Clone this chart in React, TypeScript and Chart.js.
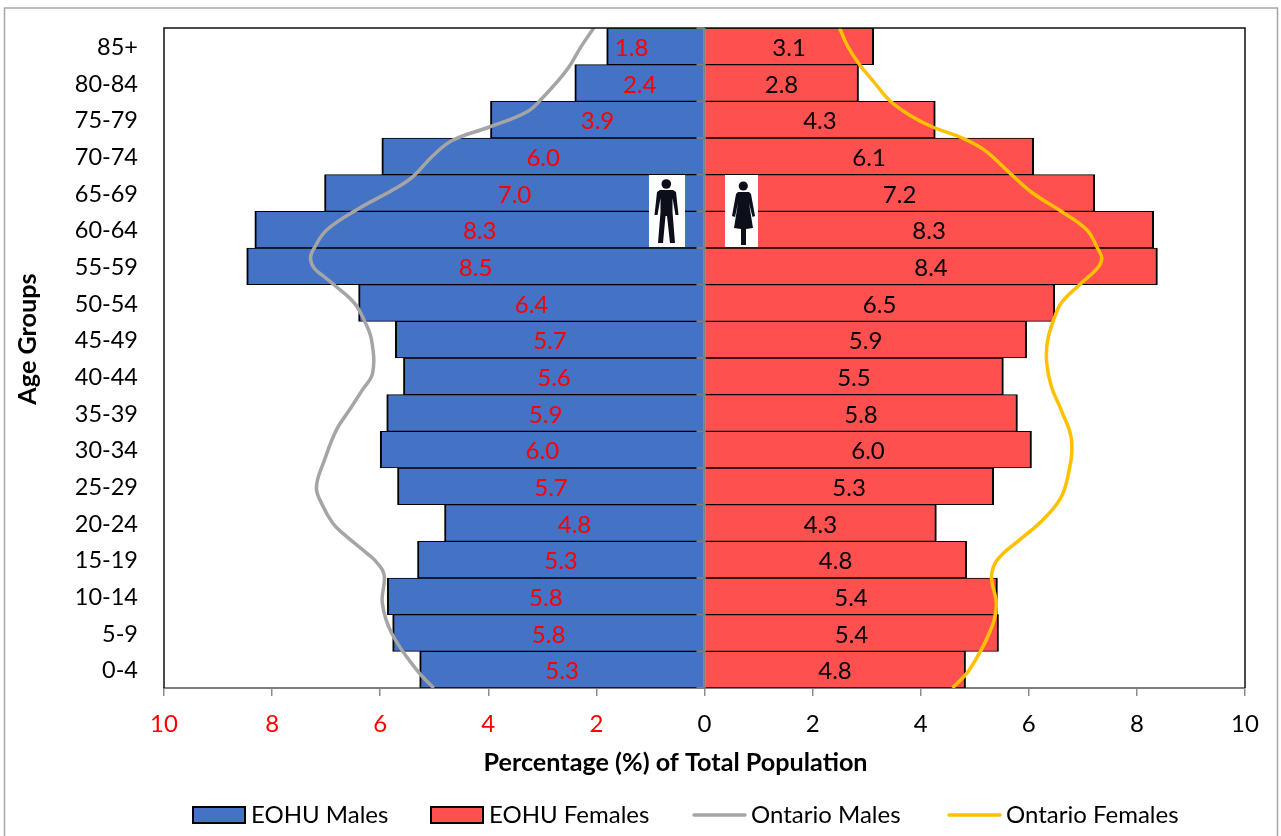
import React, { useEffect, useRef } from "react";
import { Chart, registerables } from "chart.js";

Chart.register(...registerables);

const FONT = "Lato, Carlito, 'Open Sans', sans-serif";

const ageGroups = ["85+", "80-84", "75-79", "70-74", "65-69", "60-64", "55-59", "50-54", "45-49", "40-44", "35-39", "30-34", "25-29", "20-24", "15-19", "10-14", "5-9", "0-4"];
const eohuMales = [1.81, 2.4, 3.96, 5.97, 7.03, 8.32, 8.47, 6.4, 5.72, 5.57, 5.88, 6.0, 5.68, 4.81, 5.31, 5.87, 5.77, 5.27];
const eohuFemales = [3.13, 2.85, 4.27, 6.09, 7.22, 8.31, 8.38, 6.48, 5.96, 5.53, 5.79, 6.05, 5.35, 4.29, 4.85, 5.42, 5.44, 4.83];
const maleLabels = ["1.8", "2.4", "3.9", "6.0", "7.0", "8.3", "8.5", "6.4", "5.7", "5.6", "5.9", "6.0", "5.7", "4.8", "5.3", "5.8", "5.8", "5.3"];
const femaleLabels = ["3.1", "2.8", "4.3", "6.1", "7.2", "8.3", "8.4", "6.5", "5.9", "5.5", "5.8", "6.0", "5.3", "4.3", "4.8", "5.4", "5.4", "4.8"];

// Ontario curves: position on the age axis (0 = bottom, 18 = top) and percentage
const ontarioMaleLevels = [0, 0.5, 1.5, 2.31, 3.0, 3.22, 3.5, 3.68, 4.23, 4.5, 4.99, 5.48, 6.22, 7.04, 7.58, 8.13, 8.59, 9.49, 10.01, 10.5, 10.99, 11.21, 11.45, 11.73, 12, 12.49, 13.09, 13.58, 13.94, 14.51, 14.94, 15.3, 15.71, 16.09, 16.85, 17.5, 18];
const ontarioMales = [5.01, 5.33, 5.79, 5.96, 5.92, 5.96, 6.11, 6.25, 6.7, 6.88, 7.07, 7.18, 7.03, 6.81, 6.57, 6.33, 6.14, 6.16, 6.29, 6.48, 6.85, 7.03, 7.22, 7.29, 7.22, 6.99, 6.38, 5.77, 5.4, 5.03, 4.66, 3.98, 3.29, 3.0, 2.55, 2.28, 2.05];
const ontarioFemaleLevels = [0, 0.5, 1.5, 2.26, 3.03, 3.5, 4.04, 4.5, 5.13, 5.75, 6.76, 7.58, 8.21, 8.89, 9.49, 10.12, 10.5, 11, 11.45, 11.73, 12, 12.5, 13.03, 13.5, 14, 14.67, 15, 15.3, 15.63, 16.03, 16.5, 17, 17.5, 18];
const ontarioFemales = [4.59, 4.9, 5.27, 5.4, 5.31, 5.42, 5.83, 6.2, 6.57, 6.72, 6.79, 6.6, 6.42, 6.33, 6.35, 6.48, 6.6, 6.94, 7.27, 7.35, 7.27, 7.07, 6.57, 6.07, 5.68, 5.18, 4.77, 4.22, 3.79, 3.42, 3.15, 2.87, 2.65, 2.5];

const xTickValues = [-10, -8, -6, -4, -2, 0, 2, 4, 6, 8, 10];
const xTitle = "Percentage (%) of Total Population";
const yTitle = "Age Groups";

const pairs = (levels: number[], values: number[]) => levels.map((y, i) => ({ x: values[i], y }));

const pyramidPlugin = {
  id: "pyramid",
  afterDatasetsDraw(chart: any) {
    const { ctx, chartArea: a, scales } = chart;
    const x = scales.x;
    const y = scales.y;
    const zero = x.getPixelForValue(0);
    ctx.save();

    // plot frame
    ctx.strokeStyle = "#111";
    ctx.lineWidth = 1.5;
    ctx.beginPath();
    ctx.moveTo(a.left, a.bottom);
    ctx.lineTo(a.left, a.top);
    ctx.lineTo(a.right, a.top);
    ctx.lineTo(a.right, a.bottom);
    ctx.stroke();

    // vertical axis through zero with its ticks
    ctx.strokeStyle = "#7f7f7f";
    ctx.lineWidth = 2;
    ctx.beginPath();
    ctx.moveTo(zero, a.top);
    ctx.lineTo(zero, a.bottom);
    const rowH = (a.bottom - a.top) / ageGroups.length;
    for (let i = 0; i <= ageGroups.length; i++) {
      ctx.moveTo(zero - 8, a.top + i * rowH);
      ctx.lineTo(zero, a.top + i * rowH);
    }
    ctx.stroke();

    // bar value labels
    ctx.font = `24px ${FONT}`;
    ctx.textAlign = "center";
    ctx.textBaseline = "middle";
    ageGroups.forEach((_, i) => {
      const cy = y.getPixelForValue(i) + 2;
      ctx.fillStyle = "#FF0000";
      const shift = i === 0 ? -24 : 0;
      ctx.fillText(maleLabels[i], x.getPixelForValue(-eohuMales[i] / 2) + shift, cy);
      ctx.fillStyle = "#000";
      ctx.fillText(femaleLabels[i], x.getPixelForValue(eohuFemales[i] / 2), cy);
    });

    // pictograms
    ctx.fillStyle = "#fff";
    ctx.fillRect(649, 175, 36, 72);
    ctx.fillRect(725, 175, 33, 72);
    ctx.fillStyle = "#0c0e1a";
    ctx.beginPath();
    ctx.arc(666.3, 184, 4.8, 0, Math.PI * 2);
    ctx.fill();
    ctx.beginPath();
    [[660, 190], [673, 190], [676, 192], [678.5, 215], [675.5, 215], [672.5, 198], [672.5, 212], [675, 243], [670, 243], [667, 216], [665.5, 216], [663, 243], [658, 243], [660.5, 212], [660.5, 198], [657.5, 215], [654.5, 215], [657, 192]].forEach((p, i) => (i ? ctx.lineTo(p[0], p[1]) : ctx.moveTo(p[0], p[1])));
    ctx.closePath();
    ctx.fill();
    ctx.beginPath();
    ctx.arc(743.3, 186, 4.6, 0, Math.PI * 2);
    ctx.fill();
    ctx.beginPath();
    [[738, 192], [749, 192], [751, 194], [755, 216], [752.5, 217], [749, 203], [753, 228], [746, 229], [746, 245], [741, 245], [741, 229], [734, 228], [738, 203], [735, 217], [732, 216], [736, 194]].forEach((p, i) => (i ? ctx.lineTo(p[0], p[1]) : ctx.moveTo(p[0], p[1])));
    ctx.closePath();
    ctx.fill();

    // outer chart frame
    ctx.strokeStyle = "#a6a6a6";
    ctx.lineWidth = 1.5;
    ctx.strokeRect(4.5, 8, 1273, 900);

    // axis titles
    ctx.fillStyle = "#000";
    ctx.font = `bold 25.2px ${FONT}`;
    ctx.textAlign = "center";
    ctx.fillText(xTitle, 675.5, 763);
    ctx.save();
    ctx.translate(28, 339);
    ctx.rotate(-Math.PI / 2);
    ctx.fillText(yTitle, 0, 0);
    ctx.restore();

    // legend
    const lx = [193, 431, 693, 948];
    const ly = 815;
    ctx.font = `24px ${FONT}`;
    ctx.textAlign = "left";
    chart.data.datasets.forEach((d: any, i: number) => {
      const sx = lx[i];
      if (d.type === "scatter") {
        ctx.strokeStyle = d.borderColor;
        ctx.lineWidth = 3.5;
        ctx.lineCap = "round";
        ctx.beginPath();
        ctx.moveTo(sx + 1, ly);
        ctx.lineTo(sx + 52, ly);
        ctx.stroke();
      } else {
        ctx.fillStyle = d.backgroundColor;
        ctx.fillRect(sx, ly - 8, 52, 16);
        ctx.strokeStyle = "#000";
        ctx.lineWidth = 2;
        ctx.strokeRect(sx, ly - 8, 52, 16);
      }
      ctx.fillStyle = "#000";
      ctx.fillText(d.label, sx + 58, ly);
    });
    ctx.restore();
  },
};

export default function App() {
  const ref = useRef<HTMLCanvasElement>(null);

  useEffect(() => {
    const chart = new Chart(ref.current as HTMLCanvasElement, {
      type: "bar",
      data: {
        labels: ageGroups,
        datasets: [
          { type: "bar", label: "EOHU Males", data: eohuMales.map((v) => -v), backgroundColor: "#4472C4", borderColor: "#000", borderWidth: { top: 1, bottom: 1, left: 2, right: 0 }, borderSkipped: false, yAxisID: "y", xAxisID: "x", order: 2 },
          { type: "bar", label: "EOHU Females", data: eohuFemales, backgroundColor: "#FF5050", borderColor: "#000", borderWidth: { top: 1, bottom: 1, left: 0, right: 2 }, borderSkipped: false, yAxisID: "y", xAxisID: "x", order: 2 },
          { type: "scatter", label: "Ontario Males", data: pairs(ontarioMaleLevels, ontarioMales.map((v) => -v)), showLine: true, borderColor: "#A5A5A5", backgroundColor: "#A5A5A5", borderWidth: 3.5, pointRadius: 0, tension: 0.4, yAxisID: "yLine", xAxisID: "x", order: 1 },
          { type: "scatter", label: "Ontario Females", data: pairs(ontarioFemaleLevels, ontarioFemales), showLine: true, borderColor: "#FFC000", backgroundColor: "#FFC000", borderWidth: 3.5, pointRadius: 0, tension: 0.4, yAxisID: "yLine", xAxisID: "x", order: 1 },
        ] as any,
      },
      options: {
        indexAxis: "y",
        animation: false,
        responsive: false,
        datasets: { bar: { grouped: false, categoryPercentage: 1, barPercentage: 1 } },
        layout: { padding: { top: 28, right: 36, left: 0, bottom: 0 } },
        plugins: { legend: { display: false }, tooltip: { enabled: false }, title: { display: false } },
        scales: {
          x: {
            type: "linear",
            min: -10,
            max: 10,
            afterBuildTicks: (s: any) => { s.ticks = xTickValues.map((value) => ({ value })); },
            afterFit: (s: any) => { s.height = 148; s.paddingLeft = 0; s.paddingRight = 0; },
            grid: { drawOnChartArea: false, drawTicks: true, tickLength: 8, color: "#8c8c8c", lineWidth: 1.5 },
            border: { color: "#7f7f7f", width: 2 },
            ticks: {
              maxRotation: 0,
              padding: 14,
              font: { family: FONT, size: 24 },
              color: (c: any) => (c.tick.value < 0 ? "#FF0000" : "#000"),
              callback: (v: any) => String(Math.abs(Number(v))),
            },
          },
          y: {
            type: "category",
            offset: true,
            afterFit: (s: any) => { s.width = 164; s.paddingTop = 0; s.paddingBottom = 0; },
            grid: { display: false },
            border: { display: false },
            ticks: { padding: 18, autoSkip: false, labelOffset: 1, font: { family: FONT, size: 23.5 }, color: "#000" },
          },
          yLine: { type: "linear", axis: "y", display: false, min: 0, max: 18, offset: false, grid: { offset: false } },
        },
      } as any,
      plugins: [pyramidPlugin],
    });
    return () => chart.destroy();
  }, []);

  return (
    <div style={{ position: "absolute", left: 0, top: 0, width: 1281, height: 836, overflow: "hidden", background: "#fff" }}>
      <canvas ref={ref} width={1281} height={836} style={{ display: "block" }} />
    </div>
  );
}
